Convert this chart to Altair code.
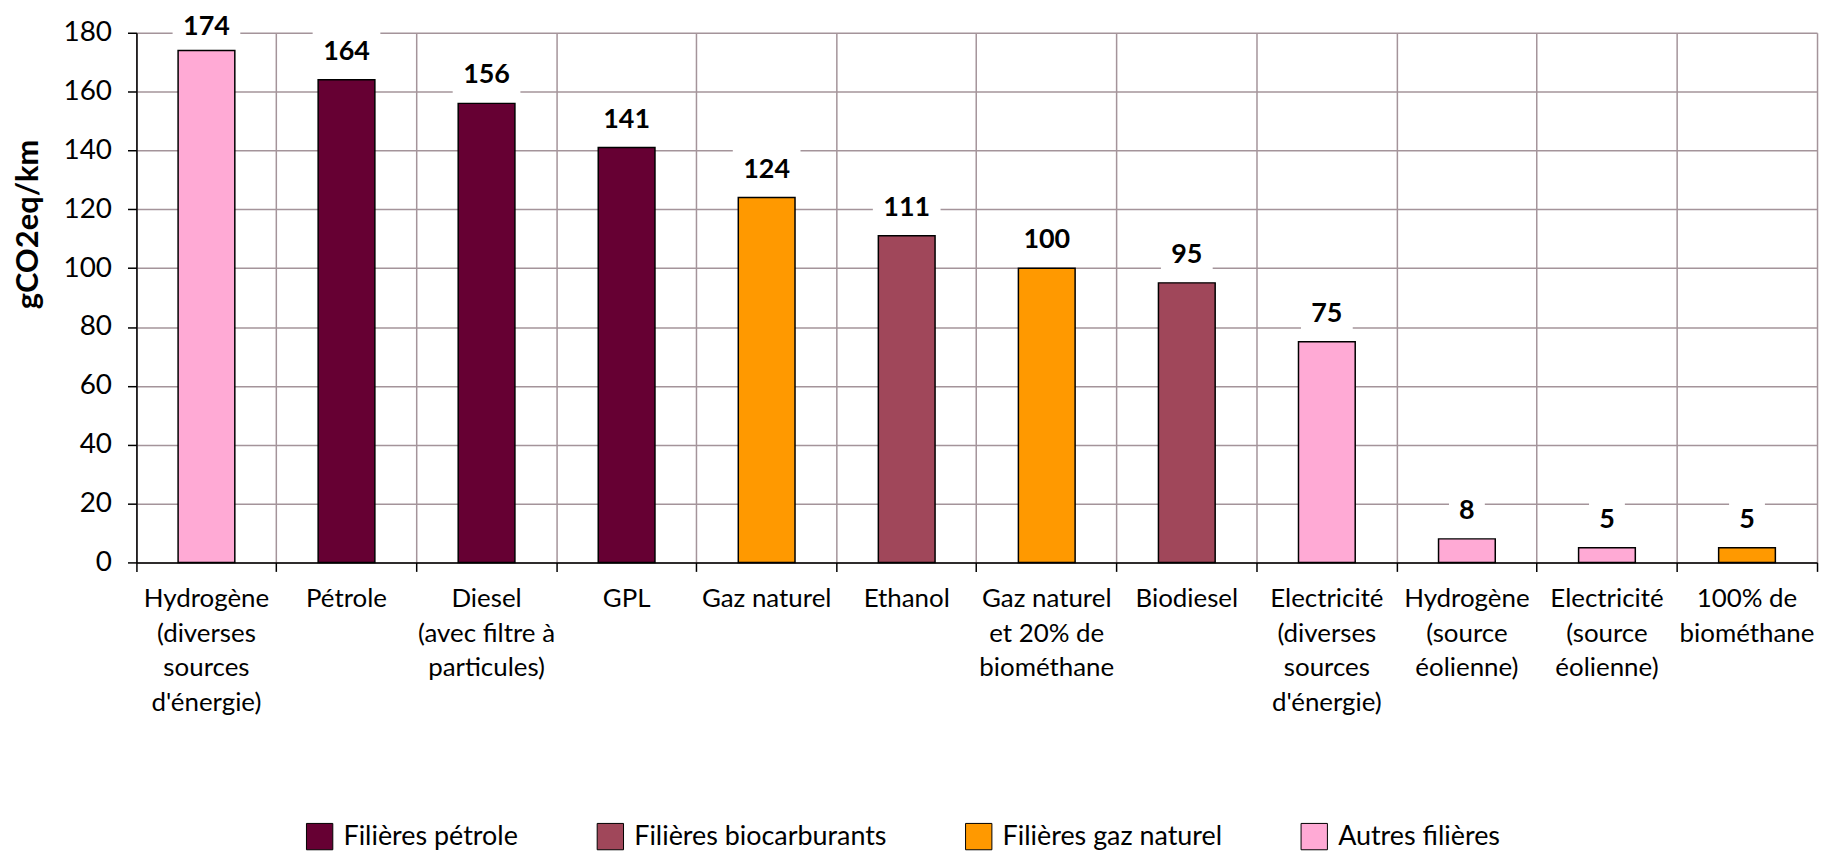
import altair as alt
import pandas as pd

categories = [
    "Hydrogène|(diverses|sources|d'énergie)",
    "Pétrole",
    "Diesel|(avec filtre à|particules)",
    "GPL",
    "Gaz naturel",
    "Ethanol",
    "Gaz naturel|et 20% de|biométhane",
    "Biodiesel",
    "Electricité|(diverses|sources|d'énergie)",
    "Hydrogène|(source|éolienne)",
    "Electricité|(source|éolienne)",
    "100% de|biométhane",
]
values = [174, 164, 156, 141, 124, 111, 100, 95, 75, 8, 5, 5]
groups = [
    "Autres filières",
    "Filières pétrole",
    "Filières pétrole",
    "Filières pétrole",
    "Filières gaz naturel",
    "Filières biocarburants",
    "Filières gaz naturel",
    "Filières biocarburants",
    "Autres filières",
    "Autres filières",
    "Autres filières",
    "Filières gaz naturel",
]
legend_order = ["Filières pétrole", "Filières biocarburants", "Filières gaz naturel", "Autres filières"]
legend_colors = ["#660033", "#A0475A", "#FF9900", "#FFAAD5"]
y_ticks = [0, 20, 40, 60, 80, 100, 120, 140, 160, 180]

df = pd.DataFrame({"cat": categories, "value": values, "group": groups})

FONT = "Lato"
GRID = "#A4949A"

x = alt.X(
    "cat:N",
    sort=categories,
    scale=alt.Scale(paddingInner=0, paddingOuter=0),
    axis=alt.Axis(
        title=None,
        labelAngle=0,
        labelExpr="split(datum.label, '|')",
        labelFont=FONT,
        labelFontSize=26,
        labelLineHeight=35,
        labelPadding=14,
        labelColor="black",
        tickColor="black",
        tickSize=9,
        tickWidth=1.5,
        domainColor="black",
        domainWidth=1.5,
        grid=True,
        gridColor=GRID,
        gridWidth=1.5,
        bandPosition=1,
        tickExtra=True,
    ),
)
y_scale = alt.Scale(domain=[0, 180], nice=False)
y_axis = alt.Axis(
    values=y_ticks,
    title="gCO2eq/km",
    titleFont=FONT,
    titleFontSize=31,
    titleFontWeight="bold",
    titleColor="black",
    titleX=-108,
    titleY=192,
    titleAlign="center",
    titleBaseline="middle",
    labelFont=FONT,
    labelFontSize=28,
    labelColor="black",
    labelPadding=16,
    tickColor="black",
    tickSize=9,
    tickWidth=1.5,
    domainColor="black",
    domainWidth=1.5,
    grid=True,
    gridColor=GRID,
    gridWidth=1.5,
)
y = alt.Y("value:Q", scale=y_scale, axis=y_axis)
y_lab = alt.Y("ly:Q", scale=y_scale, axis=y_axis)

bars = alt.Chart(df).mark_bar(
    width=alt.RelativeBandSize(0.405), stroke="black", strokeWidth=1.5
).encode(
    x=x,
    y=y,
    color=alt.Color(
        "group:N",
        scale=alt.Scale(domain=legend_order, range=legend_colors),
        legend=alt.Legend(
            title=None,
            orient="none",
            legendX=170,
            legendY=793,
            direction="horizontal",
            columns=4,
            columnPadding=76,
            symbolType="square",
            symbolSize=700,
            symbolStrokeColor="black",
            symbolStrokeWidth=1,
            symbolOpacity=1,
            labelFont=FONT,
            labelFontSize=27,
            labelColor="black",
            labelLimit=500,
            labelOffset=10,
        ),
    ),
)

# label anchor: Excel keeps the top label inside the chart frame
label_base = alt.Chart(df).transform_calculate(ly="min(datum.value, 172.5)")

boxes = (
    label_base
    .transform_calculate(hw="length(toString(datum.value)) * 8 + 10")
    .transform_calculate(
        shp="'M' + (-datum.hw) + ',-21L' + datum.hw + ',-21L' + datum.hw + ',21L' + (-datum.hw) + ',21Z'"
    )
    .mark_point(filled=True, color="white", opacity=1, size=4, yOffset=-29, strokeWidth=0)
    .encode(x=x, y=y_lab, shape=alt.Shape("shp:N", scale=None))
)

labels = label_base.mark_text(
    font=FONT, fontSize=27, fontWeight="bold", dy=-28, baseline="middle", color="black"
).encode(x=x, y=y_lab, text="value:Q")

chart = (
    alt.layer(bars, boxes, labels)
    .properties(
        width=1688,
        height=532,
        autosize=alt.AutoSizeParams(type="none"),
        padding={"left": 129, "top": 23, "right": 6, "bottom": 290},
    )
    .configure_view(stroke=None)
)

chart.save("out.html", embed_options={"renderer": "svg", "actions": False})
